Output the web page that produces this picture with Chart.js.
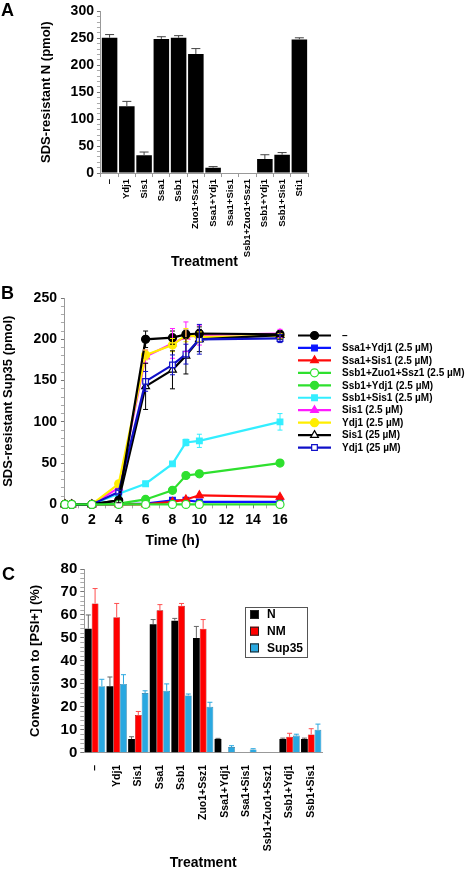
<!DOCTYPE html>
<html>
<head>
<meta charset="utf-8">
<script src="https://cdn.jsdelivr.net/npm/chart.js@4.4.0/dist/chart.umd.min.js"></script>
<style>
  html, body { margin: 0; padding: 0; background: #fff; }
  body { width: 470px; height: 872px; position: relative; overflow: hidden; font-family: "Liberation Sans", Arial, sans-serif; }
  canvas { position: absolute; left: 0; }
  .letter { position: absolute; font-weight: bold; font-size: 18px; line-height: 18px; }
</style>
</head>
<body>
<canvas id="chartA" width="320" height="271" style="top:0px"></canvas>
<canvas id="chartB" width="470" height="272" style="top:280px"></canvas>
<canvas id="chartC" width="340" height="324" style="top:548px"></canvas>
<div class="letter" style="left:1px;top:1px">A</div>
<div class="letter" style="left:1px;top:284px">B</div>
<div class="letter" style="left:2px;top:565px">C</div>
<script>
// ---------------- Panel A: SDS-resistant N ----------------
const catsA = ['–', 'Ydj1', 'Sis1', 'Ssa1', 'Ssb1', 'Zuo1+Ssz1', 'Ssa1+Ydj1', 'Ssa1+Sis1', 'Ssb1+Zuo1+Ssz1', 'Ssb1+Ydj1', 'Ssb1+Sis1', 'Sti1']
const nA = [251, 124, 33, 249, 251, 221, 10, 0, 0, 26, 34, 248]
const errA = [6, 9, 6, 4, 4, 10, 2, 0, 0, 8, 4, 3]

// ---------------- Panel B: time course ----------------
const timesB = [0, 0.5, 2, 4, 6, 8, 9, 10, 16]
const ctrlB      = [0, 0, 0, 5, 200, 202, 206, 207, 206]
const ssa1Ydj1B  = [0, 0, 0, 0, 1, 5, 5, 3, 3]
const ssa1Sis1B  = [0, 0, 0, 0, 0, 3, 6, 11, 9]
const ssb1ZuoB   = [0, 0, 0, 0, 0, 0, 0, 0, 0]
const ssb1Ydj1B  = [0, 0, 0, 1, 6, 17, 35, 37, 50]
const ssb1Sis1B  = [0, 0, 0, 13, 25, 49, 75, 77, 100]
const sis1LowB   = [0, 0, 0, 20, 179, 195, 203, 205, 207]
const ydj1LowB   = [0, 0, 0, 25, 181, 193, 205, 203, 204]
const sis1HighB  = [0, 0, 0, 5, 143, 163, 180, 200, 205]
const ydj1HighB  = [0, 0, 0, 15, 149, 169, 182, 200, 201]
// error bars
const ctrlErrB     = [0, 0, 0, 0, 10, 8, 5, 5, 3]
const ssb1Sis1ErrB = [0, 0, 0, 0, 0, 0, 4, 8, 10]
const sis1LowErrB  = [0, 0, 0, 0, 8, 18, 18, 12, 5]
const ydj1LowErrB  = [0, 0, 0, 0, 6, 8, 8, 6, 3]
const sis1HighErrB = [0, 0, 0, 3, 28, 23, 22, 15, 5]
const ydj1HighErrB = [0, 0, 0, 2, 12, 12, 12, 18, 5]

// ---------------- Panel C: conversion to [PSI+] ----------------
const catsC = ['–', 'Ydj1', 'Sis1', 'Ssa1', 'Ssb1', 'Zuo1+Ssz1', 'Ssa1+Ydj1', 'Ssa1+Sis1', 'Ssb1+Zuo1+Ssz1', 'Ssb1+Ydj1', 'Ssb1+Sis1']
const nC    = [54, 29, 6, 56, 57.5, 50, 6, 0, 0, 6, 6]
const nmC   = [65, 59, 16.5, 62, 64, 54, 0, 0, 0, 7, 8]
const supC  = [29, 30, 26, 27, 25, 20, 2.5, 1.5, 0.3, 7.5, 10]
const nErrC   = [6, 4, 1, 2, 1, 5, 0.3, 0, 0, 0.4, 0.4]
const nmErrC  = [6.5, 6, 1.5, 2.5, 1, 4, 0, 0, 0, 1.5, 2.5]
const supErrC = [3, 4, 1, 3, 0.6, 2, 0.6, 0.3, 0, 0.6, 2.5]

Chart.defaults.font.family = '"Liberation Sans", Arial, sans-serif'
Chart.defaults.color = '#000'

// error bars, drawn through the y scale
const errorBars = {
  id: 'errorBars',
  afterDatasetsDraw(chart) {
    const ctx = chart.ctx
    const yScale = chart.scales.y
    chart.data.datasets.forEach((ds, i) => {
      if (!ds.errors) return
      const meta = chart.getDatasetMeta(i)
      meta.data.forEach((el, j) => {
        const e = ds.errors[j]
        if (!e) return
        const v = ds.data[j]
        const val = typeof v === 'object' ? v.y : v
        const x = el.x
        const yTop = yScale.getPixelForValue(val + e)
        const yBot = ds.errBoth ? yScale.getPixelForValue(val - e) : el.y
        const cap = ds.errCap || 3
        ctx.save()
        ctx.strokeStyle = ds.errColor
        ctx.lineWidth = 1
        ctx.beginPath()
        ctx.moveTo(x, yBot); ctx.lineTo(x, yTop)
        ctx.moveTo(x - cap, yTop); ctx.lineTo(x + cap, yTop)
        if (ds.errBoth) { ctx.moveTo(x - cap, yBot); ctx.lineTo(x + cap, yBot) }
        ctx.stroke()
        ctx.restore()
      })
    })
  }
}

const minorTickColor = c => (c.tick && c.tick.label !== '') ? '#777' : '#aaa'

// -------------------------------------- Panel A --------------------------------------
new Chart(document.getElementById('chartA'), {
  type: 'bar',
  data: {
    labels: catsA,
    datasets: [{
      data: nA, errors: errA, errColor: '#444', errCap: 4.5,
      backgroundColor: '#000', barPercentage: 0.9, categoryPercentage: 1
    }]
  },
  options: {
    responsive: false, animation: false, devicePixelRatio: 1,
    layout: { padding: { left: 35, right: 12, top: 2, bottom: 0 } },
    plugins: { legend: { display: false }, tooltip: { enabled: false } },
    scales: {
      x: {
        grid: { drawOnChartArea: false, tickLength: 4, color: '#999' },
        border: { color: '#999' },
        ticks: { minRotation: 90, maxRotation: 90, autoSkip: false, padding: 2, font: { size: 9.5, weight: 'bold' } },
        title: { display: true, text: 'Treatment', font: { size: 14, weight: 'bold' }, padding: { top: -5, bottom: 0 } }
      },
      y: {
        min: 0, max: 300,
        ticks: { stepSize: 10, autoSkip: false, padding: 3, font: { size: 14, weight: 'bold' }, callback: v => v % 50 === 0 ? v : '' },
        grid: { drawOnChartArea: false, tickLength: 4, color: minorTickColor },
        border: { color: '#999' },
        title: { display: true, text: 'SDS-resistant N (pmol)', font: { size: 13, weight: 'bold' }, padding: { top: 4, bottom: 13 } }
      }
    }
  },
  plugins: [errorBars]
})

// -------------------------------------- Panel B --------------------------------------
const pts = arr => arr.map((v, i) => ({ x: timesB[i], y: v }))

function seriesB(label, values, color, style, filled, order, errs) {
  return {
    label: label,
    data: pts(values),
    borderColor: color,
    backgroundColor: color,
    pointBackgroundColor: filled ? color : '#fff',
    pointBorderColor: color,
    pointStyle: style,
    pointRadius: style === 'triangle' ? 4.5 : 4,
    pointBorderWidth: 1.2,
    borderWidth: 2.2,
    tension: 0,
    clip: false,
    order: order,
    errors: errs, errColor: color, errBoth: true, errCap: 2.5
  }
}

const legendB = {
  id: 'legendB',
  afterDraw(chart) {
    const ctx = chart.ctx
    const x0 = chart.chartArea.right + 18
    let y = 55.5
    ctx.save()
    chart.data.datasets.forEach(ds => {
      ctx.strokeStyle = ds.borderColor
      ctx.lineWidth = 2.2
      ctx.beginPath(); ctx.moveTo(x0, y); ctx.lineTo(x0 + 33, y); ctx.stroke()
      ctx.fillStyle = ds.pointBackgroundColor
      ctx.strokeStyle = ds.pointBorderColor
      ctx.lineWidth = 1.2
      Chart.helpers.drawPoint(ctx, { pointStyle: ds.pointStyle, radius: ds.pointRadius, borderWidth: 1.2, rotation: 0 }, x0 + 16.5, y)
      ctx.fillStyle = '#000'
      ctx.font = 'bold 10px "Liberation Sans", Arial, sans-serif'
      ctx.textBaseline = 'middle'
      ctx.fillText(ds.label, x0 + 44, y + 0.5)
      y += 12.45
    })
    ctx.restore()
  }
}

new Chart(document.getElementById('chartB'), {
  type: 'line',
  data: {
    datasets: [
      seriesB('–', ctrlB, '#000000', 'circle', true, 1, ctrlErrB),
      seriesB('Ssa1+Ydj1 (2.5 µM)', ssa1Ydj1B, '#0a14ff', 'rect', true, 8, null),
      seriesB('Ssa1+Sis1 (2.5 µM)', ssa1Sis1B, '#ff0a0a', 'triangle', true, 7, null),
      seriesB('Ssb1+Zuo1+Ssz1 (2.5 µM)', ssb1ZuoB, '#2ee02e', 'circle', false, 0, null),
      seriesB('Ssb1+Ydj1 (2.5 µM)', ssb1Ydj1B, '#2ee02e', 'circle', true, 6, null),
      seriesB('Ssb1+Sis1 (2.5 µM)', ssb1Sis1B, '#33eeff', 'rect', true, 5, ssb1Sis1ErrB),
      seriesB('Sis1 (2.5 µM)', sis1LowB, '#ff1aff', 'triangle', true, 4, sis1LowErrB),
      seriesB('Ydj1 (2.5 µM)', ydj1LowB, '#ffee00', 'circle', true, 3, ydj1LowErrB),
      seriesB('Sis1 (25 µM)', sis1HighB, '#000000', 'triangle', false, 2.5, sis1HighErrB),
      seriesB('Ydj1 (25 µM)', ydj1HighB, '#1010c8', 'rect', false, 2, ydj1HighErrB)
    ]
  },
  options: {
    responsive: false, animation: false, devicePixelRatio: 1,
    layout: { padding: { left: 0, right: 190, top: 18, bottom: 0 } },
    plugins: { legend: { display: false }, tooltip: { enabled: false } },
    scales: {
      x: {
        type: 'linear', min: 0, max: 16,
        ticks: { stepSize: 1, autoSkip: false, padding: 3, maxRotation: 0, font: { size: 14, weight: 'bold' }, callback: v => v % 2 === 0 ? v : '' },
        grid: { drawOnChartArea: false, tickLength: 4, color: minorTickColor },
        border: { color: '#999' },
        title: { display: true, text: 'Time (h)', font: { size: 14, weight: 'bold' }, padding: { top: 2, bottom: 2 } }
      },
      y: {
        min: 0, max: 250,
        ticks: { stepSize: 10, autoSkip: false, padding: 4, font: { size: 14, weight: 'bold' }, callback: v => v % 50 === 0 ? v : '' },
        grid: { drawOnChartArea: false, tickLength: 4, color: minorTickColor },
        border: { color: '#999' },
        title: { display: true, text: 'SDS-resistant Sup35 (pmol)', font: { size: 13, weight: 'bold' }, padding: { top: 1, bottom: 13 } }
      }
    }
  },
  plugins: [errorBars, legendB]
})

// -------------------------------------- Panel C --------------------------------------
const legendC = {
  id: 'legendC',
  afterDraw(chart) {
    const ctx = chart.ctx
    const bx = 245, by = 59, bw = 62, bh = 50
    ctx.save()
    ctx.fillStyle = '#fff'
    ctx.fillRect(bx, by, bw, bh)
    ctx.strokeStyle = '#555'
    ctx.lineWidth = 1
    ctx.strokeRect(bx + 0.5, by + 0.5, bw, bh)
    chart.data.datasets.forEach((ds, i) => {
      const y = by + 7 + i * 16.7
      ctx.fillStyle = ds.backgroundColor
      ctx.fillRect(bx + 5, y - 4, 9, 9)
      ctx.strokeStyle = '#222'
      ctx.strokeRect(bx + 5.5, y - 3.5, 8, 8)
      ctx.fillStyle = '#000'
      ctx.font = 'bold 12px "Liberation Sans", Arial, sans-serif'
      ctx.textBaseline = 'middle'
      ctx.fillText(ds.label, bx + 22, y + 1)
    })
    ctx.restore()
  }
}

new Chart(document.getElementById('chartC'), {
  type: 'bar',
  data: {
    labels: catsC,
    datasets: [
      { label: 'N', data: nC, errors: nErrC, errColor: '#666', backgroundColor: '#000', borderColor: '#000', borderWidth: 0 },
      { label: 'NM', data: nmC, errors: nmErrC, errColor: '#ff5050', backgroundColor: '#ff0000', borderColor: '#a00000', borderWidth: 0.6 },
      { label: 'Sup35', data: supC, errors: supErrC, errColor: '#2aa8e0', backgroundColor: '#2aa8e0', borderColor: '#1a6f99', borderWidth: 0.6 }
    ].map(d => Object.assign(d, { barPercentage: 1, categoryPercentage: 0.94, errCap: 2.5 }))
  },
  options: {
    responsive: false, animation: false, devicePixelRatio: 1,
    layout: { padding: { left: 24, right: 18, top: 21, bottom: 0 } },
    plugins: { legend: { display: false }, tooltip: { enabled: false } },
    scales: {
      x: {
        grid: { drawOnChartArea: false, display: false },
        border: { color: '#999' },
        ticks: { minRotation: 90, maxRotation: 90, autoSkip: false, padding: 4, font: { size: 10.5, weight: 'bold' } },
        title: { display: true, text: 'Treatment', font: { size: 14, weight: 'bold' }, padding: { top: 0, bottom: 0 } }
      },
      y: {
        min: 0, max: 80,
        ticks: { stepSize: 2, autoSkip: false, padding: 3, font: { size: 15, weight: 'bold' }, callback: v => v % 10 === 0 ? v : '' },
        grid: { drawOnChartArea: false, tickLength: 4, color: minorTickColor },
        border: { color: '#999' },
        title: { display: true, text: 'Conversion to [PSI+] (%)', font: { size: 13, weight: 'bold' }, padding: { top: 4, bottom: 14 } }
      }
    }
  },
  plugins: [errorBars, legendC]
})
</script>
</body>
</html>
